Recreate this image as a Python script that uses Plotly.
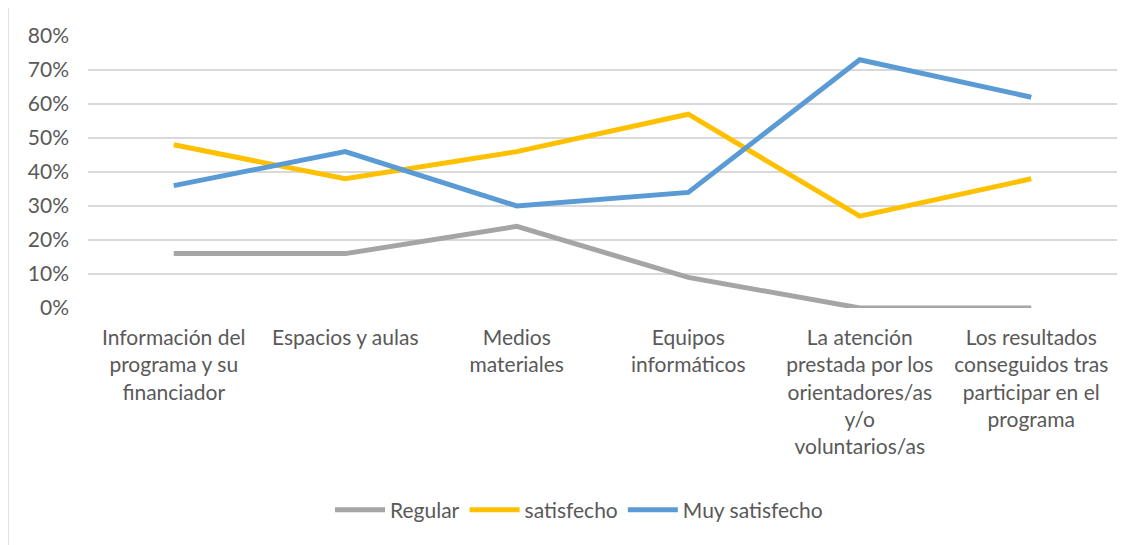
import plotly.graph_objects as go

categories = [
    "Información del<br>programa y su<br>financiador",
    "Espacios y aulas",
    "Medios<br>materiales",
    "Equipos<br>informáticos",
    "La atención<br>prestada por los<br>orientadores/as<br>y/o<br>voluntarios/as",
    "Los resultados<br>conseguidos tras<br>participar en el<br>programa",
]
regular = [0.16, 0.16, 0.24, 0.09, 0.00, 0.00]
satisfecho = [0.48, 0.38, 0.46, 0.57, 0.27, 0.38]
muy_satisfecho = [0.36, 0.46, 0.30, 0.34, 0.73, 0.62]

series = [
    ("Regular", regular, "#A5A5A5"),
    ("satisfecho", satisfecho, "#FFC000"),
    ("Muy satisfecho", muy_satisfecho, "#5B9BD5"),
]

FONT = "Lato"
FS = 21
fig = go.Figure()
for name, vals, color in series:
    fig.add_trace(go.Scatter(
        x=list(range(len(categories))), y=vals, name=name, mode="lines",
        line=dict(color=color, width=5, shape="linear"),
    ))

# page offset of the figure (body margin)
OFF = 8
W, H = 1139 - OFF, 545 - OFF
L, T = 88 - OFF, 36 - OFF
R = W - (1117 - OFF)
B = H - (308 - OFF)
pw, ph = W - L - R, H - T - B

def px_x(p):
    return (p - OFF - L) / pw

def px_y(p):
    return (H - B - (p - OFF)) / ph

fig.update_layout(
    width=W, height=H,
    margin=dict(l=L, r=R, t=T, b=B),
    paper_bgcolor="white", plot_bgcolor="white",
    font=dict(family=FONT, size=FS, color="#595959"),
    xaxis=dict(
        tickmode="array", tickvals=list(range(len(categories))), ticktext=categories,
        range=[-0.5, len(categories) - 0.5], showgrid=False, zeroline=False,
        showline=False, ticks="", tickangle=0, ticklabelstandoff=15,
        tickfont=dict(family=FONT, size=FS, color="#595959"),
    ),
    yaxis=dict(
        range=[0, 0.8], dtick=0.1, tickformat=".0%", showgrid=True,
        gridcolor="#D9D9D9", gridwidth=1.5, zeroline=False, showline=False,
        ticks="", ticklabelstandoff=18,
        tickfont=dict(family=FONT, size=FS, color="#595959"),
    ),
    legend=dict(
        orientation="h", x=px_x(579), xanchor="center", y=px_y(510), yanchor="middle",
        font=dict(family=FONT, size=FS, color="#595959"), itemwidth=50,
        traceorder="normal",
    ),
    showlegend=True,
    shapes=[dict(
        type="rect", xref="paper", yref="paper",
        x0=px_x(8), x1=px_x(1170), y0=px_y(580), y1=px_y(7),
        line=dict(color="#D9D9D9", width=1.5), fillcolor="rgba(0,0,0,0)", layer="below",
    )],
)

fig.write_html("out.html")
